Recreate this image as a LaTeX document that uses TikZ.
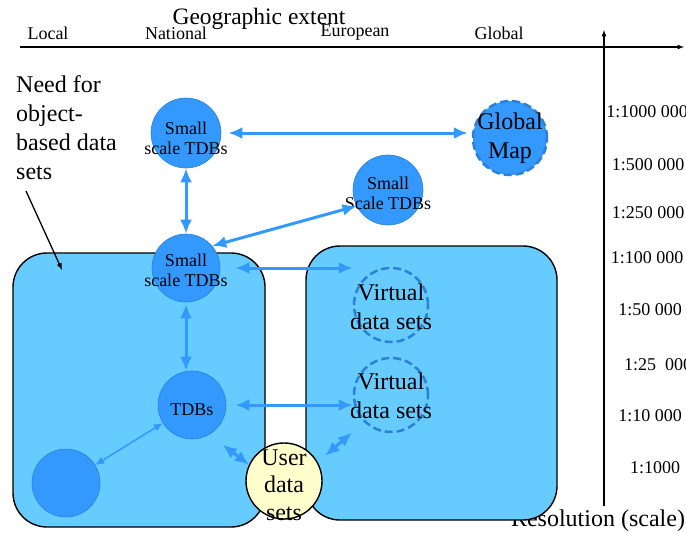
\documentclass[tikz,border=0pt]{standalone}
\usepackage{fontspec}
\setmainfont{Liberation Serif}
\usepackage{xcolor}
\usetikzlibrary{arrows,arrows.meta,positioning}

\definecolor{boxblue}{HTML}{66CCFF}
\definecolor{tdbblue}{HTML}{3399FF}
\definecolor{edgeblue}{HTML}{2C80D8}
\definecolor{userfill}{HTML}{FFFFCC}

\tikzset{
	fsize/.style={font=\fontsize{#1}{#1}\selectfont},
	tdb/.style={circle,fill=tdbblue,draw=edgeblue,line width=0.6pt,minimum size=#1,inner sep=0pt},
	virt/.style={circle,draw=edgeblue,line width=2.5pt,dash pattern=on 8pt off 4pt,minimum size=#1,inner sep=0pt},
	lbl/.style={align=center,font=\fontsize{18}{20}\selectfont,inner sep=0pt},
	biglbl/.style={align=center,font=\fontsize{24}{28.5}\selectfont,inner sep=0pt},
	link/.style={{Latex[length=14pt,width=12pt]}-{Latex[length=14pt,width=12pt]},draw=tdbblue,line width=3pt},
	thinlink/.style={{Latex[length=9pt,width=8pt]}-{Latex[length=9pt,width=8pt]},draw=tdbblue,line width=1.5pt},
	areabox/.style={draw=black,line width=1.4pt,fill=boxblue,rounded corners=34pt},
	scalelbl/.style={fsize=18,inner sep=0pt}
}

\begin{document}
\begin{tikzpicture}[x=1pt,y=-1pt]
	\useasboundingbox (0,0) rectangle (686,533);
	% axes
	\draw [-latex,line width=1.2pt](20,47) -- (684,47) coordinate(x axis);
	\draw [-latex,line width=1.2pt](604,506) -- (604,30) coordinate(y axis);
	\node[fsize=23.5,inner sep=0pt] (geo) at (259,19) {Geographic extent};
	\node[scalelbl] (local) at (48,33) {Local};
	\node[scalelbl] (national) at (176,33) {National};
	\node[scalelbl] (european) at (355,33) {European};
	\node[scalelbl] (global) at (499,33) {Global};
	\node[scalelbl] (s1) at (647,112) {1:1000 000};
	\node[scalelbl] (s2) at (648,165) {1:500 000};
	\node[scalelbl] (s3) at (648,213) {1:250 000};
	\node[scalelbl] (s4) at (647,258) {1:100 000};
	\node[scalelbl] (s5) at (650,310) {1:50 000};
	\node[scalelbl,anchor=west] (s6) at (624,365) {1:25~~000};
	\node[scalelbl] (s7) at (650,416) {1:10 000};
	\node[scalelbl] (s8) at (655,468) {1:1000};
	\node[fsize=24,inner sep=0pt] (res) at (598,521) {Resolution (scale)};

	% boxes
	\draw[areabox] (13,253) rectangle (265,527);
	\draw[areabox] (306,246) rectangle (557,520);

	% note
	\node[align=left,anchor=north west,font=\fontsize{24}{29}\selectfont,inner sep=0pt] (need) at (16,75) {Need for\\object-\\based data\\sets};
	\coordinate (needtip) at (62,270);
	\draw[-latex,line width=1.3pt] (26,191) -- (needtip);

	% data bases
	\node[tdb=70pt,label={[lbl,yshift=-5pt]center:Small\\scale TDBs}] (sstop) at (186,133) {};
	\node[tdb=74pt,draw=edgeblue,line width=2.5pt,dash pattern=on 8pt off 4pt,label={[biglbl]center:Global\\Map}] (gmap) at (510,138) {};
	\node[tdb=70pt,label={[lbl,yshift=-3pt]center:Small\\Scale TDBs}] (ssmid) at (388,190) {};
	\node[tdb=68pt,label={[lbl,yshift=-2pt]center:Small\\scale TDBs}] (sslow) at (186,268) {};
	\node[tdb=68pt,label={[lbl,yshift=-5pt]center:TDBs}] (tdb) at (192,405) {};
	\node[tdb=68pt] (local db) at (66,483) {};
	\node[virt=74pt,label={[biglbl,yshift=-2pt]center:Virtual\\data sets}] (virt1) at (391,305) {};
	\node[virt=74pt,label={[biglbl,yshift=-1pt]center:Virtual\\data sets}] (virt2) at (391,395) {};
	\node[circle,fill=userfill,draw=black,line width=1.4pt,minimum size=76pt,inner sep=0pt,
		label={[align=center,font=\fontsize{24}{27.5}\selectfont,inner sep=0pt,yshift=-4pt]center:User\\data\\sets}] (user) at (284,481) {};

	% links
	\draw[link,shorten <=7pt,shorten >=4pt] (sstop.east) -- (sstop.east -| gmap.west);
	\draw[link] (sstop.south) -- (sslow.north);
	\draw[link] (sslow.40) -- (ssmid.207);
	\draw[link,shorten <=15pt] (sslow.east) -- (sslow.east -| virt1.west);
	\draw[link,shorten <=2pt] (sslow.south) -- (sslow.south |- tdb.north);
	\draw[link,shorten <=9pt] (tdb.east) -- (tdb.east -| virt2.west);
	\draw[thinlink] (tdb) -- (local db);
	\draw[link,shorten <=17pt] (tdb.-60) -- (user.155);
	\draw[link,shorten <=10pt,shorten >=16pt] (user.29) -- (virt2.225);
\end{tikzpicture}
\end{document}
